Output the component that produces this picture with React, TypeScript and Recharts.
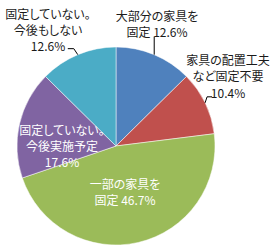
import { PieChart, Pie, Cell } from "recharts";

// 回答区分（ラベルの行）
const categories = [
  ["大部分の家具を", "固定"],
  ["家具の配置工夫", "など固定不要"],
  ["一部の家具を", "固定"],
  ["固定していない。", "今後実施予定"],
  ["固定していない。", "今後もしない"],
];
const values = [12.6, 10.4, 46.7, 17.6, 12.6];
const colors = ["#4F81BD", "#C0504D", "#9BBB59", "#8064A2", "#4BACC6"];

const data = values.map((v, i) => ({ name: categories[i].join(""), value: v }));

// label placement relative to pie centre; leader points relative to arc point
const labelLayout = [
  { dx: 41, dy: -131, gap: 16, inline: true, inside: false, leader: [[0, -18], [0, 0]] },
  { dx: 112, dy: -87, gap: 16.5, inline: false, inside: false, leader: [[7, -6], [2, -6], [0, 0]] },
  { dx: 9, dy: 37, gap: 16, inline: true, inside: true, leader: null },
  { dx: -54, dy: -17, gap: 16, inline: false, inside: true, leader: null },
  { dx: -68, dy: -133, gap: 16, inline: false, inside: false, leader: [[-10, -6], [-4, -6], [0, 0]] },
];

const RADIAN = Math.PI / 180;

const renderLabel = (props: any) => {
  const { cx, cy, midAngle, outerRadius, index } = props;
  const L = labelLayout[index];
  const pct = `${values[index].toFixed(1)}%`;
  const lines = [...categories[index]];
  if (L.inline) lines[lines.length - 1] = `${lines[lines.length - 1]} ${pct}`;
  else lines.push(pct);
  const px = cx + outerRadius * Math.cos(-midAngle * RADIAN);
  const py = cy + outerRadius * Math.sin(-midAngle * RADIAN);
  const fill = L.inside ? "#ffffff" : "#1a1a1a";
  return (
    <g key={`lbl-${index}`}>
      {L.leader && (
        <polyline
          points={L.leader.map(([x, y]) => `${px + x},${py + y}`).join(" ")}
          fill="none"
          stroke="#000"
          strokeWidth={1}
        />
      )}
      <text
        x={cx + L.dx}
        y={cy + L.dy}
        textAnchor="middle"
        fill={fill}
        fontSize={12}
        style={{ fontFeatureSettings: '"palt"' }}
      >
        {lines.map((t, i) => (
          <tspan key={i} x={cx + L.dx} y={cy + L.dy + i * L.gap} dominantBaseline="central">
            {t}
          </tspan>
        ))}
      </text>
    </g>
  );
};

export default function App() {
  return (
    <div
      style={{
        position: "absolute",
        left: 0,
        top: 0,
        width: 277,
        height: 250,
        background: "#fff",
        fontFamily: '"Noto Sans CJK JP", "Noto Sans", sans-serif',
      }}
    >
      <PieChart width={277} height={250} margin={{ top: 0, right: 0, bottom: 0, left: 0 }}>
        <Pie
          data={data}
          dataKey="value"
          cx={116}
          cy={146}
          outerRadius={99}
          startAngle={90}
          endAngle={-270}
          stroke="#ffffff"
          strokeWidth={0.5}
          label={renderLabel}
          labelLine={false}
          isAnimationActive={false}
        >
          {data.map((_, i) => (
            <Cell key={i} fill={colors[i]} />
          ))}
        </Pie>
      </PieChart>
    </div>
  );
}
